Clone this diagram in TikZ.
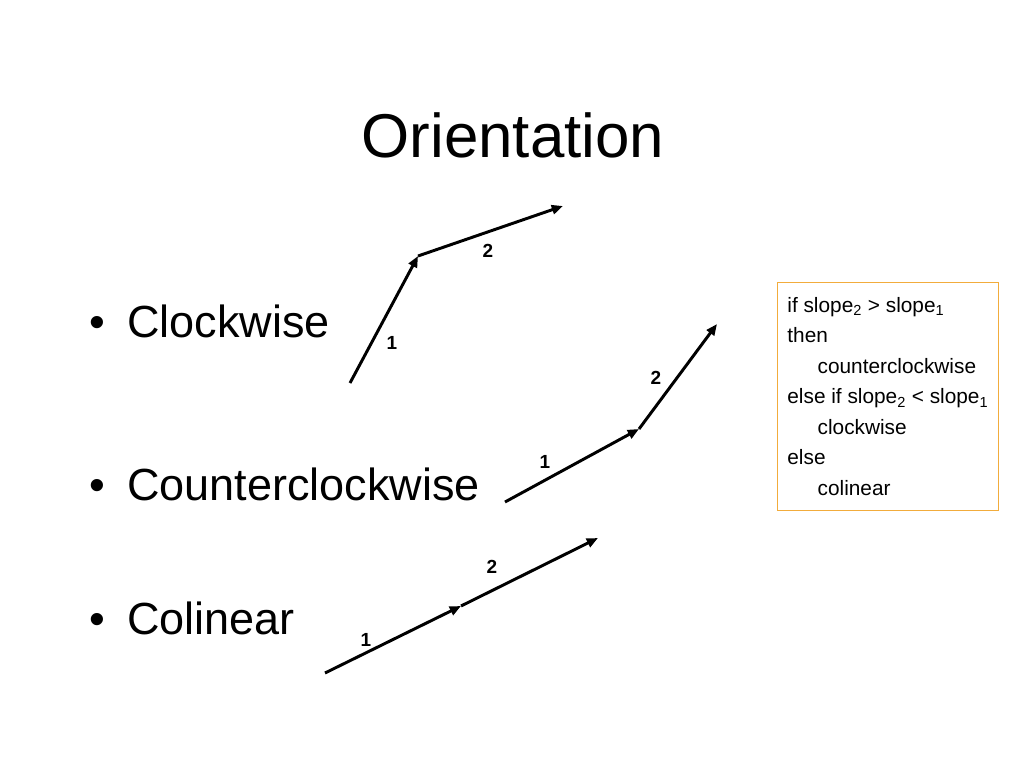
\documentclass[tikz,border=0pt]{standalone}
\usepackage{fontspec}
\setmainfont{Liberation Sans}
\usetikzlibrary{arrows.meta, positioning}
\definecolor{boxorange}{RGB}{242,172,60}

\begin{document}
\begin{tikzpicture}[
    x=0.025cm, y=-0.025cm,
    heading/.style={font=\fontsize{44}{50}\selectfont, anchor=base, inner sep=0pt},
    item/.style={font=\fontsize{32}{38}\selectfont, anchor=base west, inner sep=0pt},
    num/.style={font=\fontsize{13.5}{15}\selectfont\bfseries, inner sep=0pt},
    vec/.style={-{Triangle[length=8pt, width=6.5pt]}, line width=2.1pt},
    rulebox/.style={draw=boxorange, line width=0.8pt, anchor=north west,
    inner xsep=7pt, inner ysep=10.5pt, align=left,
    font=\fontsize{14.8}{21.7}\selectfont}
]
\useasboundingbox (0,0) rectangle (1024,768);

% ---------------- TITLE ----------------
\node[heading] (title) at (513,157) {Orientation};

% ---------------- BULLETS ----------------
\node[item] (b1) at (89,337) {\textbullet};
\node[item] (cw) at (127,337) {Clockwise};
\node[item] (b2) at (89,500) {\textbullet};
\node[item] (ccw) at (127,500) {Counterclockwise};
\node[item] (b3) at (89,634) {\textbullet};
\node[item] (col) at (127,634) {Colinear};

% ---------------- CLOCKWISE ----------------
\coordinate (cwA) at (350,383);
\coordinate (cwB) at (418,256);
\coordinate (cwC) at (563,206);
\draw[vec] (cwA)--(cwB);
\draw[vec] (cwB)--(cwC);
\node[num] (cw1) at (392,343) {1};
\node[num] (cw2) at (488,251) {2};

% ---------------- COUNTERCLOCKWISE ----------------
\coordinate (ccwA) at (505,502);
\coordinate (ccwB) at (639,429);
\coordinate (ccwC) at (717,324);
\draw[vec] (ccwA)--(ccwB);
\draw[vec] (ccwB)--(ccwC);
\node[num] (ccw1) at (545,462) {1};
\node[num] (ccw2) at (656,378) {2};

% ---------------- COLINEAR ----------------
\coordinate (colA) at (325,673);
\coordinate (colB) at (461,606);
\coordinate (colC) at (598,538);
\draw[vec] (colA)--(colB);
\draw[vec] (colB)--(colC);
\node[num] (col1) at (366,640) {1};
\node[num] (col2) at (492,567) {2};

% Rule
\node[rulebox] (rule) at (777,282)
{if slope\textsubscript{2} > slope\textsubscript{1}\\
then\\
\hspace*{21.5pt}counterclockwise\\
else if slope\textsubscript{2} < slope\textsubscript{1}\\
\hspace*{21.5pt}clockwise\\
else\\
\hspace*{21.5pt}colinear};

\end{tikzpicture}
\end{document}
